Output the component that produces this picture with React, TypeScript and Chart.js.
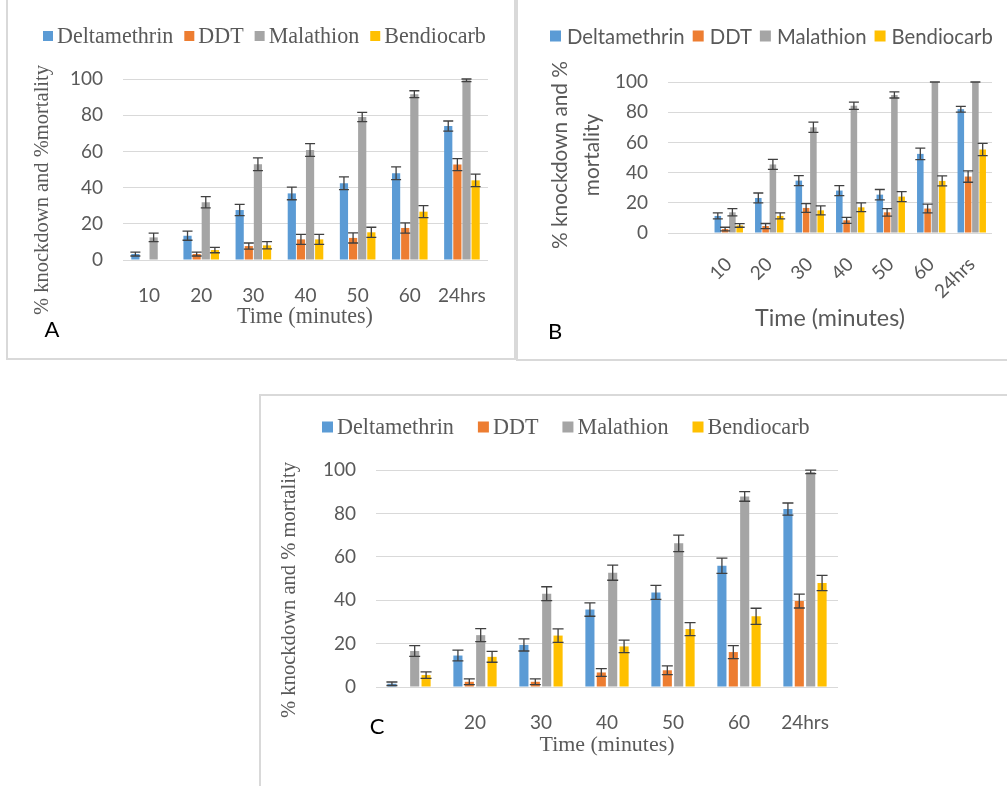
import React, { useEffect, useRef } from 'react';
import { Chart, registerables } from 'chart.js';

Chart.register(...registerables);

// ---------- shared ----------
const seriesNames = ['Deltamethrin', 'DDT', 'Malathion', 'Bendiocarb'];
const seriesColors = ['#5B9BD5', '#ED7D31', '#A5A5A5', '#FFC000'];
const yTicks = [0, 20, 40, 60, 80, 100];

// ---------- panel A ----------
const categoriesA = ['10', '20', '30', '40', '50', '60', '24hrs'];
const deltaA = [3.3, 13.4, 27.6, 36.8, 42.4, 47.9, 74];
const ddtA = [0, 3.3, 7.7, 11.4, 12.2, 17.7, 52.7];
const malA = [12.5, 31.9, 52.9, 60.8, 79, 91.6, 99.3];
const bendA = [0, 5.5, 8.1, 11.4, 15.3, 26.7, 44];
const errDeltaA = [1.1, 2.5, 3.1, 3.5, 3.5, 3.5, 2.8];
const errDdtA = [0, 1.1, 1.7, 2.8, 2.8, 2.8, 3.3];
const errMalA = [2.4, 3.1, 3.5, 3.5, 2.6, 1.9, 0.7];
const errBendA = [0, 1.5, 2, 2.8, 2.8, 3.3, 3.5];

// ---------- panel B ----------
const categoriesB = ['', '10', '20', '30', '40', '50', '60', '24hrs'];
const deltaB = [null, 11.3, 23.2, 34.7, 28.1, 25.4, 52.4, 82];
const ddtB = [null, 2.6, 4.6, 16.6, 8.4, 13.7, 16.2, 37.4];
const malB = [null, 13.7, 45.4, 70, 84.3, 91.4, 100, 100];
const bendB = [null, 5, 11.3, 15, 17, 24.1, 34.5, 55.3];
const errDeltaB = [0, 2, 3.3, 3.3, 3.3, 3.4, 3.8, 1.9];
const errDdtB = [0, 1.2, 1.7, 2.9, 2, 2.5, 2.9, 3.8];
const errMalB = [0, 2.4, 3.3, 3.4, 2.4, 2, 0, 0];
const errBendB = [0, 1.2, 2, 3, 2.9, 3.3, 3.3, 4];

// ---------- panel C ----------
const categoriesC = ['', '20', '30', '40', '50', '60', '24hrs'];
const deltaC = [1.5, 14.5, 19.4, 35.7, 43.6, 55.9, 82];
const ddtC = [0, 2.4, 2.4, 6.7, 7.7, 16.1, 39.6];
const malC = [16.6, 23.9, 43, 52.7, 66.2, 87.8, 99.1];
const bendC = [5.5, 13.9, 23.7, 18.7, 26.7, 32.6, 47.9];
const errDeltaC = [0.8, 2.5, 2.8, 3.1, 3.2, 3.5, 2.8];
const errDdtC = [0, 1.3, 1.3, 1.8, 2, 3, 3.2];
const errMalC = [2.5, 3, 3.2, 3.5, 3.8, 2.2, 0.8];
const errBendC = [1.5, 2.5, 3.1, 2.9, 3, 3.7, 3.5];

const SERIF = '"Liberation Serif", "Times New Roman", serif';
const SANS = 'Lato, "Liberation Sans", sans-serif';
const TEXT = '#595959';
const GRID = '#d9d9d9';

function makeErrorPlugin(errs: number[][], capHalf: number) {
  return {
    id: 'errorBars',
    afterDatasetsDraw(chart: any) {
      const ctx = chart.ctx;
      const y = chart.scales.y;
      ctx.save();
      ctx.strokeStyle = '#404040';
      ctx.lineWidth = 1.3;
      chart.data.datasets.forEach((ds: any, i: number) => {
        const meta = chart.getDatasetMeta(i);
        meta.data.forEach((bar: any, j: number) => {
          const v = ds.data[j];
          const e = errs[i][j] || 0;
          if (v == null || (v === 0 && e === 0)) return;
          const x = bar.x;
          const t = y.getPixelForValue(v + e);
          const b = y.getPixelForValue(v - e);
          ctx.beginPath();
          ctx.moveTo(x, t);
          ctx.lineTo(x, b);
          ctx.moveTo(x - capHalf, t);
          ctx.lineTo(x + capHalf, t);
          ctx.moveTo(x - capHalf, b);
          ctx.lineTo(x + capHalf, b);
          ctx.stroke();
        });
      });
      ctx.restore();
    },
  };
}

type TextSpec = { text: string; cx: number; cy: number; w?: number; size?: number; rot?: boolean; family: string; color?: string; sizeFrom?: number };
type LegendSpec = { x0: number; x1: number; cy: number; box: number; gap: number; spacing: number; family: string };

function makeDecoPlugin(legend: LegendSpec, texts: TextSpec[]) {
  return {
    id: 'deco',
    afterDraw(chart: any) {
      const ctx = chart.ctx;
      ctx.save();
      // legend
      const base = 20;
      ctx.font = `${base}px ${legend.family}`;
      const w0 = seriesNames.map((n) => ctx.measureText(n).width);
      const textTarget = legend.x1 - legend.x0 - seriesNames.length * (legend.box + legend.gap) - (seriesNames.length - 1) * legend.spacing;
      const size = (base * textTarget) / w0.reduce((a, b) => a + b, 0);
      ctx.font = `${size}px ${legend.family}`;
      const ws = seriesNames.map((n) => ctx.measureText(n).width);
      let x = legend.x0;
      ctx.textBaseline = 'middle';
      ctx.textAlign = 'left';
      seriesNames.forEach((n, i) => {
        ctx.fillStyle = seriesColors[i];
        ctx.fillRect(x, legend.cy - legend.box / 2, legend.box, legend.box);
        x += legend.box + legend.gap;
        ctx.fillStyle = TEXT;
        ctx.fillText(n, x, legend.cy + 1);
        x += ws[i] + legend.spacing;
      });
      // texts
      const sizes: number[] = [];
      texts.forEach((t) => {
        let s = t.size || 20;
        if (t.sizeFrom != null) s = sizes[t.sizeFrom];
        else if (t.w) {
          ctx.font = `20px ${t.family}`;
          s = (20 * t.w) / ctx.measureText(t.text).width;
        }
        sizes.push(s);
        ctx.font = `${s}px ${t.family}`;
        ctx.fillStyle = t.color || TEXT;
        ctx.textAlign = 'center';
        ctx.textBaseline = 'middle';
        ctx.save();
        ctx.translate(t.cx, t.cy);
        if (t.rot) ctx.rotate(-Math.PI / 2);
        ctx.fillText(t.text, 0, 0);
        ctx.restore();
      });
      ctx.restore();
    },
  };
}

type PanelProps = {
  left: number; top: number; width: number; height: number;
  labels: string[]; series: (number | null)[][]; errs: number[][];
  area: { left: number; right: number; top: number; bottom: number };
  catPct: number; barPct: number; capHalf: number;
  tickFamily: string; tickSize: number; xPad: number; yPad: number; rotation: number;
  legend: LegendSpec; texts: TextSpec[];
};

function Panel(p: PanelProps) {
  const ref = useRef<HTMLCanvasElement | null>(null);
  useEffect(() => {
    if (!ref.current) return;
    const chart = new Chart(ref.current, {
      type: 'bar',
      data: {
        labels: p.labels,
        datasets: p.series.map((d, i) => ({
          label: seriesNames[i],
          data: d as any,
          backgroundColor: seriesColors[i],
          borderWidth: 0,
          categoryPercentage: p.catPct,
          barPercentage: p.barPct,
        })),
      },
      options: {
        animation: false,
        responsive: false,
        devicePixelRatio: 1,
        layout: { padding: { left: 0, top: p.area.top, right: p.width - p.area.right, bottom: 0 } },
        plugins: { legend: { display: false }, tooltip: { enabled: false } },
        scales: {
          x: {
            grid: { display: false },
            border: { display: false },
            ticks: {
              autoSkip: false,
              color: TEXT,
              font: { family: p.tickFamily, size: p.tickSize },
              padding: p.xPad,
              minRotation: p.rotation,
              maxRotation: p.rotation,
            },
            afterFit: (s: any) => { s.height = p.height - p.area.bottom; },
          },
          y: {
            min: 0,
            max: 100,
            afterBuildTicks: (s: any) => { s.ticks = yTicks.map((v) => ({ value: v })); },
            ticks: { color: TEXT, font: { family: p.tickFamily, size: p.tickSize }, padding: p.yPad },
            grid: { color: GRID, lineWidth: 1, drawTicks: false },
            border: { display: false },
            afterFit: (s: any) => { s.width = p.area.left; },
          },
        },
      },
      plugins: [makeErrorPlugin(p.errs, p.capHalf), makeDecoPlugin(p.legend, p.texts)],
    });
    return () => chart.destroy();
  }, []);
  return (
    <canvas
      ref={ref}
      width={p.width}
      height={p.height}
      style={{ position: 'absolute', left: p.left, top: p.top, width: p.width, height: p.height }}
    />
  );
}

export default function App() {
  const border = '2px solid #d9d9d9';
  return (
    <div style={{ position: 'absolute', left: 0, top: 0, width: 1007, height: 786, overflow: 'hidden', background: '#fff' }}>
      <div style={{ position: 'absolute', left: 6, top: -4, width: 510, height: 364, border, boxSizing: 'border-box' }} />
      <div style={{ position: 'absolute', left: 516, top: -4, width: 520, height: 365, border, boxSizing: 'border-box' }} />
      <div style={{ position: 'absolute', left: 259, top: 394, width: 800, height: 420, border, boxSizing: 'border-box' }} />
      <Panel
        left={8} top={0} width={506} height={358}
        labels={categoriesA}
        series={[deltaA, ddtA, malA, bendA]}
        errs={[errDeltaA, errDdtA, errMalA, errBendA]}
        area={{ left: 115, right: 480, top: 79, bottom: 260 }}
        catPct={0.7} barPct={0.9} capHalf={5}
        tickFamily={SANS} tickSize={19} xPad={16} yPad={20} rotation={0}
        legend={{ x0: 35, x1: 478, cy: 36, box: 10, gap: 4, spacing: 11, family: SERIF }}
        texts={[
          { text: '% knockdown and %mortality', cx: 35, cy: 190, w: 250, rot: true, family: SERIF },
          { text: 'Time (minutes)', cx: 297, cy: 317, w: 136, family: SERIF },
          { text: 'A', cx: 44, cy: 330, size: 22, family: SANS, color: '#000' },
        ]}
      />
      <Panel
        left={518} top={0} width={489} height={359}
        labels={categoriesB}
        series={[deltaB, ddtB, malB, bendB]}
        errs={[errDeltaB, errDdtB, errMalB, errBendB]}
        area={{ left: 150, right: 474, top: 82, bottom: 233 }}
        catPct={0.72} barPct={0.9} capHalf={5}
        tickFamily={SANS} tickSize={19} xPad={12} yPad={20} rotation={45}
        legend={{ x0: 32, x1: 475, cy: 36, box: 11, gap: 6, spacing: 8, family: SANS }}
        texts={[
          { text: '% knockdown and %', cx: 42, cy: 155, w: 188, rot: true, family: SANS },
          { text: 'mortality', cx: 74, cy: 155, sizeFrom: 0, rot: true, family: SANS },
          { text: 'Time (minutes)', cx: 312, cy: 318, w: 150, family: SANS },
          { text: 'B', cx: 37, cy: 332, size: 22, family: SANS, color: '#000' },
        ]}
      />
      <Panel
        left={261} top={396} width={746} height={390}
        labels={categoriesC}
        series={[deltaC, ddtC, malC, bendC]}
        errs={[errDeltaC, errDdtC, errMalC, errBendC]}
        area={{ left: 115, right: 577, top: 74, bottom: 291 }}
        catPct={0.69} barPct={0.8} capHalf={5.5}
        tickFamily={SANS} tickSize={19} xPad={16} yPad={20} rotation={0}
        legend={{ x0: 61, x1: 549, cy: 31, box: 11, gap: 4, spacing: 24, family: SERIF }}
        texts={[
          { text: '% knockdown and % mortality', cx: 29, cy: 194, w: 256, rot: true, family: SERIF },
          { text: 'Time (minutes)', cx: 346, cy: 349, w: 135, family: SERIF },
          { text: 'C', cx: 116, cy: 331, size: 22, family: SANS, color: '#000' },
        ]}
      />
    </div>
  );
}
